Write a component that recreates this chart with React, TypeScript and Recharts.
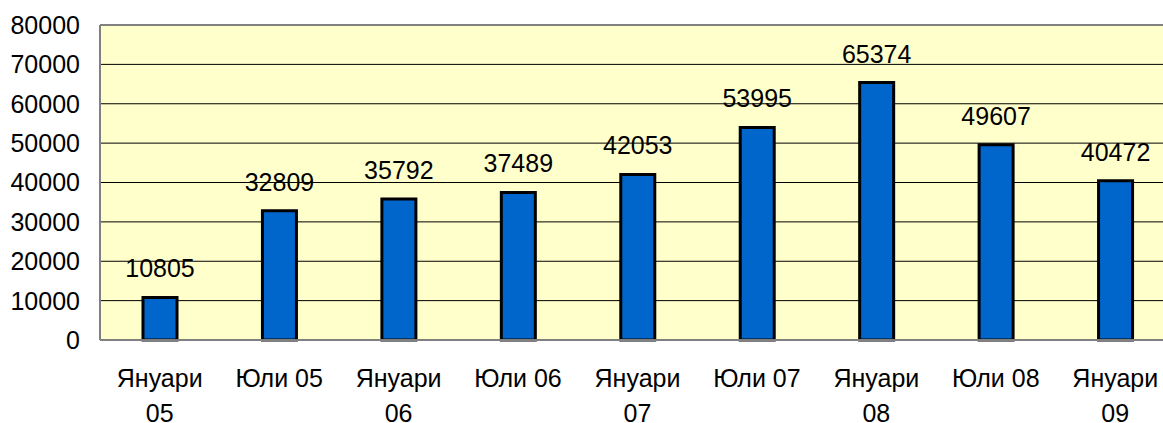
import React from "react";
import { BarChart, Bar, XAxis, YAxis, CartesianGrid, LabelList, ReferenceLine } from "recharts";

const categories = ["Януари 05", "Юли 05", "Януари 06", "Юли 06", "Януари 07", "Юли 07", "Януари 08", "Юли 08", "Януари 09"];
const values = [10805, 32809, 35792, 37489, 42053, 53995, 65374, 49607, 40472];
const yTicks = [0, 10000, 20000, 30000, 40000, 50000, 60000, 70000, 80000];

const data = categories.map((name, i) => ({ name, value: values[i] }));

const FONT = '"Liberation Sans", Arial, sans-serif';

// Януари labels wrap onto two lines, Юли labels fit on one
function XTick({ x, y, payload }: any) {
  const label: string = payload.value;
  const lines = label.startsWith("Януари") ? label.split(" ") : [label];
  return (
    <text x={x} y={y} textAnchor="middle" fill="#000" fontSize={25} fontFamily={FONT}>
      {lines.map((l, i) => (
        <tspan key={i} x={x} dy={i === 0 ? 39 : 35}>
          {l}
        </tspan>
      ))}
    </text>
  );
}

export default function App() {
  return (
    <div style={{ position: "absolute", left: 0, top: 0, width: 1163, height: 423, overflow: "hidden", background: "#fff" }}>
      <BarChart
        width={1175}
        height={423}
        data={data}
        margin={{ top: 25, right: 0, bottom: 0, left: 0 }}
        barSize={34}
      >
        <CartesianGrid vertical={false} stroke="#000" fill="#FFFFCC" />
        <XAxis
          dataKey="name"
          height={83}
          tickLine={false}
          axisLine={{ stroke: "#808080", strokeWidth: 2 }}
          tick={<XTick />}
          interval={0}
        />
        <YAxis
          width={100}
          domain={[0, 80000]}
          ticks={yTicks}
          tickLine={false}
          tickSize={0}
          tickMargin={20}
          axisLine={{ stroke: "#808080", strokeWidth: 2 }}
          tick={{ fill: "#000", fontSize: 25, fontFamily: FONT }}
        />
        <ReferenceLine y={80000} stroke="#808080" strokeWidth={2} />
        <Bar dataKey="value" fill="#0066CC" stroke="#000" strokeWidth={3} isAnimationActive={false}>
          <LabelList dataKey="value" position="top" offset={20} fill="#000" fontSize={25} fontFamily={FONT} />
        </Bar>
      </BarChart>
    </div>
  );
}
